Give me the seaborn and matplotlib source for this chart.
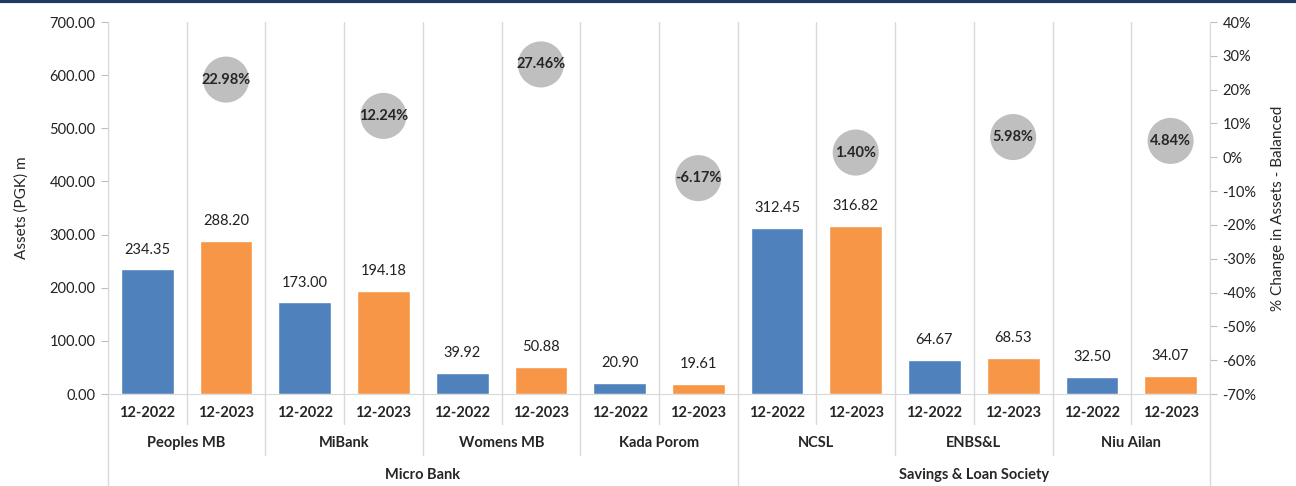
import numpy as np
import pandas as pd
import matplotlib
matplotlib.use('Agg')
import matplotlib.pyplot as plt
import matplotlib.transforms as mtransforms
from matplotlib.lines import Line2D
from matplotlib.ticker import FuncFormatter
import seaborn as sns

# data
groups = ['Micro Bank', 'Micro Bank', 'Micro Bank', 'Micro Bank',
          'Savings & Loan Society', 'Savings & Loan Society', 'Savings & Loan Society']
institutions = ['Peoples MB', 'MiBank', 'Womens MB', 'Kada Porom', 'NCSL', 'ENBS&L', 'Niu Ailan']
periods = ['12-2022', '12-2023']
assets_2022 = [234.35, 173.00, 39.92, 20.90, 312.45, 64.67, 32.50]
assets_2023 = [288.20, 194.18, 50.88, 19.61, 316.82, 68.53, 34.07]
pct_change = [22.98, 12.24, 27.46, -6.17, 1.40, 5.98, 4.84]

rows = []
for inst, a, b in zip(institutions, assets_2022, assets_2023):
    rows.append({'slot': inst + ' ' + periods[0], 'period': periods[0], 'assets': a})
    rows.append({'slot': inst + ' ' + periods[1], 'period': periods[1], 'assets': b})
df = pd.DataFrame(rows)
n_slots = len(df)

sns.set_style('white')
plt.rcParams['font.family'] = ['Lato', 'DejaVu Sans']

fig = plt.figure(figsize=(12.96, 4.86), dpi=100)
ax = fig.add_axes([0.0833, 0.1893, 0.8503, 0.7654])

sns.barplot(data=df, x='slot', y='assets', hue='period', dodge=False,
            palette={'12-2022': '#4F81BD', '12-2023': '#F79646'},
            saturation=1, width=0.67, legend=False, ax=ax)

for cont in ax.containers:
    ax.bar_label(cont, fmt='%.2f', padding=9, fontsize=10.5, color='#222222')

ax.set_xlim(-0.5, n_slots - 0.5)
ax.set_ylim(0, 700)
ax.set_yticks(np.arange(0, 701, 100))
ax.yaxis.set_major_formatter(FuncFormatter(lambda v, p: f'{v:.2f}'))
ax.set_xticks([])
ax.set_xticks(np.arange(-0.5, n_slots, 1), minor=True)
ax.tick_params(axis='x', which='minor', length=0)
ax.grid(which='minor', axis='x', color='#D9D9D9', lw=1)
ax.set_axisbelow(True)
ax.set_xlabel('')
ax.set_ylabel('Assets (PGK) m', fontsize=11)
ax.yaxis.set_label_coords(-0.0717, 0.5)
ax.tick_params(axis='y', direction='out', length=5, color='#BFBFBF', labelsize=10.5,
               labelcolor='#222222', pad=4)
for s in ['top', 'right']:
    ax.spines[s].set_visible(False)
for s in ['left', 'bottom']:
    ax.spines[s].set_color('#D9D9D9')

# percent change bubbles on the secondary axis
ax2 = ax.twinx()
bub = pd.DataFrame({'x': np.arange(1, n_slots, 2), 'pct': pct_change})
sns.scatterplot(data=bub, x='x', y='pct', s=1100, color='#BFBFBF',
                edgecolor='none', ax=ax2, zorder=3, legend=False)
for xv, pv in zip(bub['x'], bub['pct']):
    ax2.text(xv, pv, f'{pv:.2f}%', ha='center', va='center',
             fontsize=10.5, fontweight='bold', zorder=4)
ax2.set_xlim(-0.5, n_slots - 0.5)
ax2.set_ylim(-70, 40)
ax2.set_yticks(np.arange(-70, 41, 10))
ax2.yaxis.set_major_formatter(FuncFormatter(lambda v, p: f'{v:.0f}%'))
ax2.set_xlabel('')
ax2.set_ylabel('% Change in Assets - Balanced', fontsize=11)
ax2.yaxis.set_label_coords(1.0555, 0.5)
ax2.tick_params(axis='y', direction='out', length=5, color='#BFBFBF', labelsize=10.5,
                labelcolor='#222222', pad=4)
for s in ['top', 'left', 'bottom']:
    ax2.spines[s].set_visible(False)
ax2.spines['right'].set_color('#D9D9D9')

# multi-level category axis
trans = mtransforms.blended_transform_factory(ax.transData, ax.transAxes)
y_period, y_inst, y_group = -0.051, -0.132, -0.218
for i, p in enumerate(df['period']):
    ax.text(i, y_period, p, transform=trans, ha='center', va='center',
            fontsize=10.5, fontweight='bold')
for j, inst in enumerate(institutions):
    ax.text(2 * j + 0.5, y_inst, inst, transform=trans, ha='center', va='center',
            fontsize=10.5, fontweight='bold')
group_names = list(dict.fromkeys(groups))
group_edges = []
for g in group_names:
    idx = [k for k, gg in enumerate(groups) if gg == g]
    lo, hi = 2 * idx[0] - 0.5, 2 * idx[-1] + 1.5
    group_edges += [lo, hi]
    ax.text((lo + hi) / 2, y_group, g, transform=trans, ha='center', va='center',
            fontsize=10.5, fontweight='bold')

for k in range(n_slots + 1):
    xb = k - 0.5
    if xb in group_edges:
        depth = -0.26
    elif k % 2 == 0:
        depth = -0.164
    else:
        depth = -0.081
    ax.add_line(Line2D([xb, xb], [0, depth], transform=trans, color='#D9D9D9',
                       lw=1, clip_on=False))

# dark band at the very top
fig.add_artist(Line2D([0, 1], [0.997, 0.997], transform=fig.transFigure,
                      color='#1F3864', lw=3))

fig.savefig('out.png', dpi=100)
